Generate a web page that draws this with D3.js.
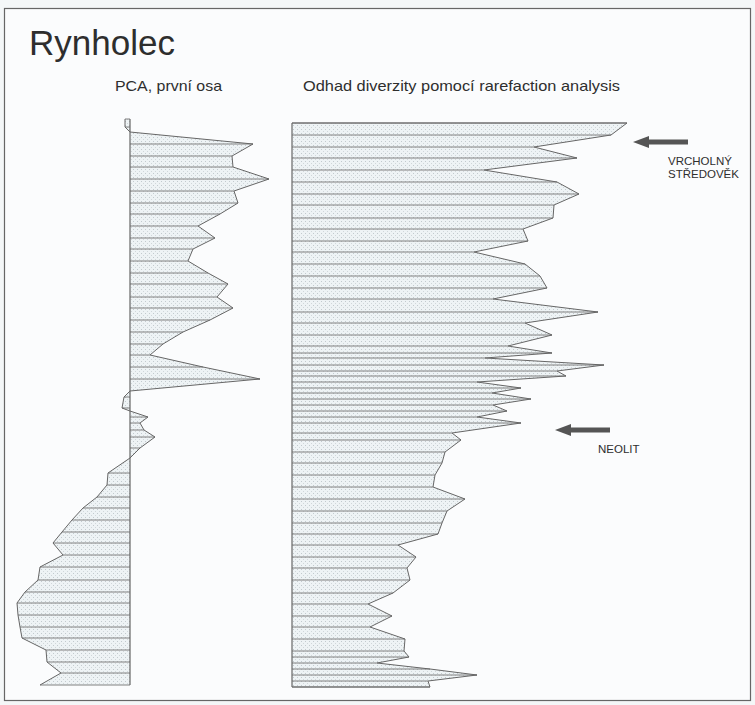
<!DOCTYPE html>
<html>
<head>
<meta charset="utf-8">
<script src="https://cdn.jsdelivr.net/npm/d3@7"></script>
<style>
  body { margin: 0; background: #f4f7f8; }
  svg { display: block; }
  text { font-family: "Liberation Sans", Arial, sans-serif; fill: #2e2e2e; }
</style>
</head>
<body>
<svg id="chart"></svg>
<script>
// Profile of Rynholec: PCA first axis + rarefaction diversity vs depth

const width = 755;
const height = 705;

// depth of samples (cm from the top of the profile)
const pcaDepth = [0, 4, 6.5, 12.5, 18.5, 24, 30, 36, 42, 47.5, 53.5, 59.5, 65, 71, 77, 82.5,
    89, 94.5, 100.5, 106.5, 112.5, 118, 124, 130, 136, 139, 144.5, 146, 149, 152, 155.5,
    159, 164.5, 169.5, 177, 183, 189, 194.5, 200.5, 206.5, 212, 218, 224, 230.5, 236.5,
    242, 248, 254, 259.5, 265.5, 271.5, 277, 283];
// PCA, first axis score
const pcaScore = [-0.05, -0.05, 0, 1.23, 1.02, 1.03, 1.39, 1.04, 1.08, 0.90, 0.68, 0.85, 0.63, 0.58, 0.78, 0.98,
    0.87, 1.03, 0.80, 0.53, 0.33, 0.20, 0.73, 1.30, 0, -0.06, -0.08, 0, 0.18, 0.10, 0.14,
    0.25, 0.10, 0, -0.22, -0.23, -0.33, -0.47, -0.58, -0.68, -0.77, -0.67, -0.90, -0.92, -1.05,
    -1.13, -1.12, -1.10, -1.08, -0.84, -0.83, -0.69, -0.90];

const divDepth = [2, 8, 14, 19.5, 25.5, 31.5, 37.5, 43, 49.5, 55, 61, 66.5, 72.5, 78.5, 84.5, 90,
    96.5, 102, 108, 113.5, 117, 119.5, 123, 126, 128.5, 131.5, 134.5, 137, 140, 143, 146,
    149, 152, 157, 160.5, 166.5, 172, 178, 184, 190, 196, 202, 207.5, 213, 219, 224.5,
    230.5, 237, 242.5, 248.5, 254, 260, 266, 269, 272, 275, 278, 281, 284];
// rarefaction estimate of diversity (expected number of taxa)
const divValue = [33.5, 31.9, 24.2, 28.5, 19.2, 26.5, 28.7, 26.2, 26.1, 23.1, 23.6, 18.2, 23.3, 24.8, 25.5, 20.1,
    30.6, 23.3, 26.0, 21.6, 26.0, 19.3, 31.2, 26.5, 27.4, 18.5, 22.9, 20.0, 23.9, 20.1, 21.5,
    18.5, 22.9, 16.0, 16.9, 15.3, 15.0, 14.3, 14.1, 17.3, 15.5, 15.0, 14.6, 10.6, 12.4, 11.5,
    11.8, 10.1, 7.6, 10.0, 7.8, 11.3, 11.2, 11.7, 8.5, 13.8, 18.5, 13.6, 13.8];

const titleText = "Rynholec";
const pcaTitle = "PCA, první osa";
const divTitle = "Odhad diverzity pomocí rarefaction analysis";

// period markers
const periodLabels = [["VRCHOLNÝ", "STŘEDOVĚK"], ["NEOLIT"]];
const periodDepth = [11.5, 155.5];

const pcaData = pcaDepth.map((d, i) => ({ depth: d, value: pcaScore[i] }));
const divData = divDepth.map((d, i) => ({ depth: d, value: divValue[i] }));

const svg = d3.select("#chart")
    .attr("width", width)
    .attr("height", height);

// stipple fill like the printed figure
const defs = svg.append("defs");
const pat = defs.append("pattern")
    .attr("id", "dots")
    .attr("width", 4)
    .attr("height", 4)
    .attr("patternUnits", "userSpaceOnUse");
pat.append("rect").attr("width", 4).attr("height", 4).attr("fill", "#eef3f5");
pat.append("rect").attr("x", 1).attr("y", 1).attr("width", 1).attr("height", 1).attr("fill", "#c2cace");
pat.append("rect").attr("x", 3).attr("y", 3).attr("width", 1).attr("height", 1).attr("fill", "#d0d7da");

// frame
svg.append("rect")
    .attr("x", 4.5).attr("y", 8.5)
    .attr("width", 746).attr("height", 692)
    .attr("fill", "#fbfcfd")
    .attr("stroke", "#666")
    .attr("stroke-width", 1.2);

// shared depth scale
const y = d3.scaleLinear().domain([0, 284]).range([119, 687]);

const xPca = d3.scaleLinear().domain([0, 1]).range([130, 230]);
const xDiv = d3.scaleLinear().domain([0, 10]).range([292, 392]);

function drawProfile(data, x) {
    const g = svg.append("g");

    const area = d3.area()
        .x0(x(0))
        .x1(d => x(d.value))
        .y(d => y(d.depth));

    g.append("path")
        .datum(data)
        .attr("d", area)
        .attr("fill", "url(#dots)");

    // one horizontal line per sample
    g.selectAll(".sample")
        .data(data)
        .enter()
        .append("line")
        .attr("class", "sample")
        .attr("x1", x(0))
        .attr("x2", d => x(d.value))
        .attr("y1", d => y(d.depth))
        .attr("y2", d => y(d.depth))
        .attr("stroke", "#808080")
        .attr("stroke-width", 1);

    const line = d3.line()
        .x(d => x(d.value))
        .y(d => y(d.depth));

    g.append("path")
        .datum(data)
        .attr("d", line)
        .attr("fill", "none")
        .attr("stroke", "#666")
        .attr("stroke-width", 1);

    // zero / baseline
    g.append("line")
        .attr("x1", x(0)).attr("x2", x(0))
        .attr("y1", y(data[0].depth))
        .attr("y2", y(data[data.length - 1].depth))
        .attr("stroke", "#666")
        .attr("stroke-width", 1.2);
}

drawProfile(pcaData, xPca);
drawProfile(divData, xDiv);

// close the top and bottom of the diversity profile
[divData[0], divData[divData.length - 1]].forEach(d => {
    svg.append("line")
        .attr("x1", xDiv(0)).attr("x2", xDiv(d.value))
        .attr("y1", y(d.depth)).attr("y2", y(d.depth))
        .attr("stroke", "#666");
});

// titles
svg.append("text")
    .attr("x", 29).attr("y", 55)
    .attr("font-size", 35)
    .text(titleText);

svg.append("text")
    .attr("x", 115).attr("y", 91)
    .attr("font-size", 14.5)
    .attr("textLength", 107)
    .attr("lengthAdjust", "spacingAndGlyphs")
    .text(pcaTitle);

svg.append("text")
    .attr("x", 303).attr("y", 91)
    .attr("font-size", 14.5)
    .attr("textLength", 317)
    .attr("lengthAdjust", "spacingAndGlyphs")
    .text(divTitle);

// arrows with period names
const arrowX = [633, 555];
const labelX = [668, 598];
periodDepth.forEach((d, i) => {
    const ty = y(d);
    const tip = arrowX[i];
    const len = 55;
    svg.append("path")
        .attr("d", `M${tip},${ty} L${tip + 16},${ty - 6} L${tip + 16},${ty - 2.5} L${tip + len},${ty - 2.5}
                    L${tip + len},${ty + 2.5} L${tip + 16},${ty + 2.5} L${tip + 16},${ty + 6} Z`)
        .attr("fill", "#555");

    svg.append("text")
        .attr("x", labelX[i])
        .attr("y", ty + 23)
        .attr("font-size", 11.5)
        .selectAll("tspan")
        .data(periodLabels[i])
        .enter()
        .append("tspan")
        .attr("x", labelX[i])
        .attr("dy", (t, j) => j === 0 ? 0 : 13)
        .text(t => t);
});
</script>
</body>
</html>
